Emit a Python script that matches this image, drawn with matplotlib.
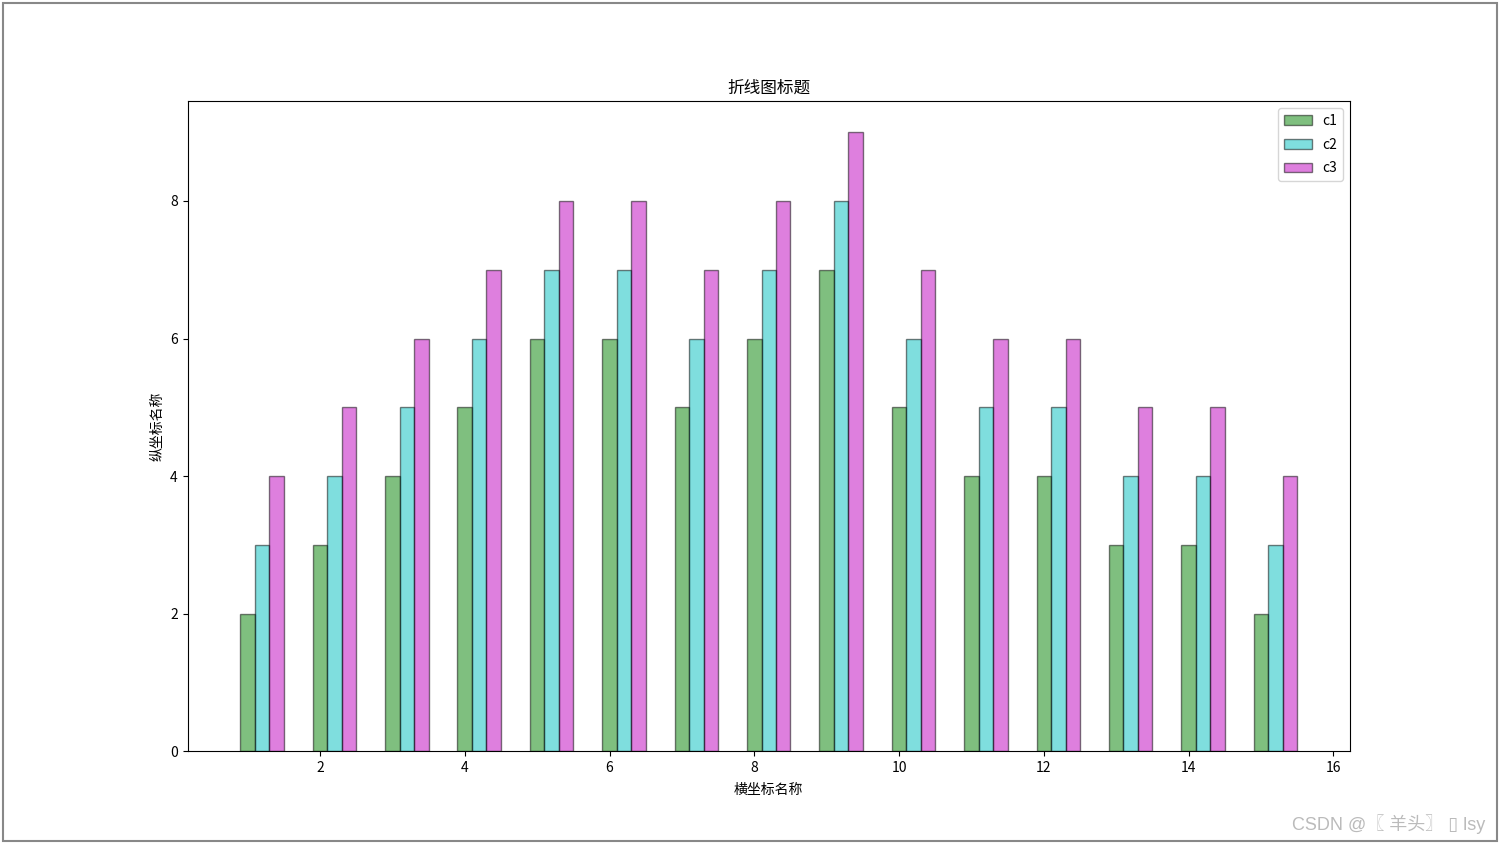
import numpy as np
import matplotlib.pyplot as plt
from matplotlib.patches import Rectangle

plt.rcParams['font.family'] = ['Noto Sans CJK SC', 'DejaVu Sans']
plt.rcParams['axes.unicode_minus'] = False

# datos
x = np.arange(1, 16)
c1 = [2, 3, 4, 5, 6, 6, 5, 6, 7, 5, 4, 4, 3, 3, 2]
c2 = [3, 4, 5, 6, 7, 7, 6, 7, 8, 6, 5, 5, 4, 4, 3]
c3 = [4, 5, 6, 7, 8, 8, 7, 8, 9, 7, 6, 6, 5, 5, 4]
nombres = ['c1', 'c2', 'c3']

fig = plt.figure(figsize=(15, 8.44), dpi=100)
ax = fig.add_subplot(111)

w = 0.2
ax.bar(x, c1, width=w, color='g', alpha=0.5, edgecolor='k', label=nombres[0])
ax.bar(x + w, c2, width=w, color='c', alpha=0.5, edgecolor='k', label=nombres[1])
ax.bar(x + 2*w, c3, width=w, color='m', alpha=0.5, edgecolor='k', label=nombres[2])

ax.set_title('折线图标题')
ax.set_xlabel('横坐标名称', labelpad=6)
ax.set_ylabel('纵坐标名称')
ax.legend(loc='upper right', labelspacing=0.7)

# marco de la captura
fig.patches.append(Rectangle((0.002, 0.004), 0.996, 0.992, transform=fig.transFigure,
                             fill=False, edgecolor='#888888', linewidth=1.5))
fig.text(0.99, 0.012, 'CSDN @〖 羊头〗 \u25af lsy', ha='right', va='bottom',
         fontsize=13, color='#bbbbbb', family=['Liberation Sans', 'Noto Sans CJK SC', 'DejaVu Sans'])

fig.savefig('out.png', dpi=100)
